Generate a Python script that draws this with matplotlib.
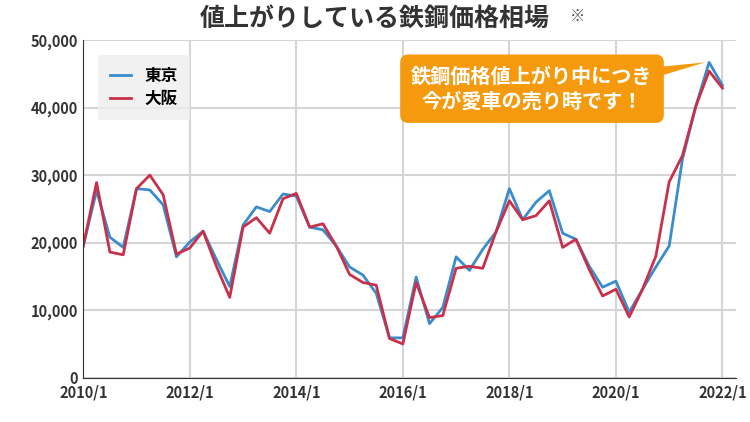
import matplotlib
matplotlib.use("Agg")
import matplotlib.pyplot as plt
from matplotlib.patches import Polygon

plt.rcParams['font.family'] = ['Noto Sans CJK JP', 'DejaVu Sans']

tokyo = [19.5,27.7,20.8,19.3,28.0,27.8,25.6,17.9,20.1,21.7,17.5,13.5,22.6,25.3,24.6,27.2,
         26.9,22.3,21.9,19.5,16.4,15.2,12.5,5.9,5.9,14.9,8.0,10.4,17.9,15.9,19.0,21.6,
         28.0,23.4,26.0,27.7,21.4,20.5,16.5,13.4,14.3,9.7,13.1,16.4,19.5,32.4,40.2,46.7,43.3]
osaka = [19.5,28.9,18.6,18.2,28.0,30.0,27.1,18.3,19.2,21.7,16.5,11.9,22.3,23.7,21.4,26.5,
         27.3,22.3,22.8,19.5,15.3,14.1,13.7,5.8,5.0,14.1,8.9,9.2,16.2,16.5,16.2,21.6,
         26.2,23.4,24.0,26.2,19.3,20.5,16.0,12.1,13.1,9.0,13.1,18.0,29.0,32.9,40.2,45.4,42.9]
tokyo = [v*1000 for v in tokyo]
osaka = [v*1000 for v in osaka]
xlabels = ["2010/1","2012/1","2014/1","2016/1","2018/1","2020/1","2022/1"]
yticks = [0,10000,20000,30000,40000,50000]

fig = plt.figure(figsize=(7.5,4.22), dpi=100)
ax = fig.add_axes([0.111, 0.105, 0.87, 0.80])
x = list(range(len(tokyo)))
ax.plot(x, tokyo, color='#3a8ccc', lw=2, label='東京')
ax.plot(x, osaka, color='#c9304a', lw=2, label='大阪')
ax.set_xlim(0, 49)
ax.set_ylim(0, 50000)
ax.set_xticks([i*8 for i in range(len(xlabels))])
ax.set_xticklabels(xlabels, fontsize=10.5, fontweight='bold', color='#333')
ax.set_yticks(yticks)
ax.set_yticklabels([f"{v:,}" for v in yticks], fontsize=10.5, fontweight='bold', color='#333')
ax.grid(True, color='#d5d5d5', lw=1.5)
ax.set_axisbelow(True)
for s in ['top','right']:
    ax.spines[s].set_visible(False)
for s in ['left','bottom']:
    ax.spines[s].set_color('#333')
ax.tick_params(axis='x', length=0, pad=5)
ax.tick_params(axis='y', length=0, pad=4)
leg = ax.legend(loc='upper left', bbox_to_anchor=(0.01, 0.98), fontsize=12, frameon=True,
                fancybox=False, borderpad=0.7, handlelength=1.3, labelspacing=0.3)
leg.get_frame().set_facecolor('#eeeeee'); leg.get_frame().set_edgecolor('none')
for t in leg.get_texts():
    t.set_fontweight('bold')
fig.text(0.5, 0.955, '値上がりしている鉄鋼価格相場', ha='center', va='center',
         fontsize=18, fontweight='bold', color='#333')
fig.text(0.76, 0.962, '※', ha='left', va='center', fontsize=11, color='#555')
# callout
ax.text(33.7, 42800, '鉄鋼価格値上がり中につき\n今が愛車の売り時です！', ha='center', va='center',
        fontsize=14.5, fontweight='bold', color='white', linespacing=1.25,
        bbox=dict(boxstyle='round,pad=0.55,rounding_size=0.4', fc='#f59a0c', ec='none'))
tri = Polygon([(40.5, 45500), (46.7, 46700), (40.5, 43000)], closed=True, fc='#f59a0c', ec='none',
              transform=ax.transData)
ax.add_patch(tri)
fig.savefig('out.png', dpi=100)
